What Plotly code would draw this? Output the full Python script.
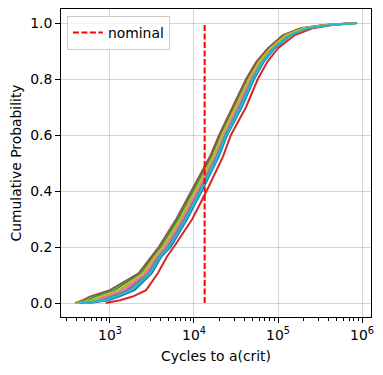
import plotly.graph_objects as go

# Cumulative probability levels at which each curve was read
prob = [0.0, 0.01, 0.023, 0.046, 0.106, 0.166, 0.2, 0.3, 0.4, 0.523,
        0.6, 0.7, 0.8, 0.86, 0.91, 0.957, 0.981, 0.993, 1.0]

# Cycles to a(crit) for each simulated curve at the probability levels above
cyc_blue   = [562, 953, 1279, 1959, 3133, 4093, 5284, 8299, 12360, 19720,
              24830, 37070, 51880, 67300, 91620, 142900, 231700, 415000, 855000]
cyc_orange = [479, 649, 818, 1346, 2564, 3499, 4395, 7031, 10570, 17260,
              21980, 32210, 45920, 60120, 82410, 126500, 205100, 380200, 880000]
cyc_green  = [417, 541, 662, 1127, 2333, 3251, 4027, 6501, 9817, 16180,
              20750, 30130, 43350, 57020, 78340, 119400, 193600, 364800, 870000]
cyc_red    = [890, 1318, 1862, 2692, 3715, 4780, 5750, 9550, 14130, 22130,
              27540, 41690, 57540, 74130, 100000, 158500, 257000, 446700, 870000]
cyc_purple = [457, 755, 977, 1563, 2780, 3724, 4732, 7516, 11250, 18200,
              23070, 34040, 48190, 62950, 85900, 132700, 215300, 393600, 860000]
cyc_brown  = [385, 479, 575, 1000, 2188, 3090, 3802, 6166, 9333, 15490,
              19950, 28840, 41690, 54950, 75860, 114800, 186200, 354800, 851000]
cyc_pink   = [501, 703, 899, 1455, 2673, 3614, 4571, 7278, 10920, 17740,
              22540, 33190, 47100, 61520, 84330, 129700, 210400, 387300, 845000]
cyc_gray   = [525, 811, 1059, 1675, 2884, 3837, 4887, 7745, 11590, 18660,
              23600, 34910, 49320, 64270, 87500, 135800, 220300, 399900, 875000]
cyc_olive  = [398, 611, 762, 1268, 2483, 3412, 4266, 6855, 10300, 16870,
              21580, 31480, 45080, 59020, 81100, 124200, 201400, 375000, 830000]
cyc_cyan   = [427, 879, 1164, 1811, 3006, 3963, 5082, 8017, 11970, 19190,
              24210, 35980, 50580, 65770, 89540, 139300, 225900, 407400, 865000]

series = [
    (cyc_blue, "#1f77b4"), (cyc_orange, "#ff7f0e"), (cyc_green, "#2ca02c"),
    (cyc_red, "#d62728"), (cyc_purple, "#9467bd"), (cyc_brown, "#8c564b"),
    (cyc_pink, "#e377c2"), (cyc_gray, "#7f7f7f"), (cyc_olive, "#bcbd22"),
    (cyc_cyan, "#17becf"),
]

nominal_x = [13400, 13400]
nominal_y = [0.0, 1.0]

x_tick_vals = [1e3, 1e4, 1e5, 1e6]
x_tick_text = ["10<sup>3</sup>", "10<sup>4</sup>", "10<sup>5</sup>", "10<sup>6</sup>"]
x_minor_vals = [m * 10 ** e for e in (2, 3, 4, 5, 6) for m in range(2, 10)]
y_tick_vals = [0.0, 0.2, 0.4, 0.6, 0.8, 1.0]

FONT = "DejaVu Sans"
FS = 13.9
fig = go.Figure()
for xs, col in series:
    fig.add_trace(go.Scatter(x=xs, y=prob, mode="lines",
                             line=dict(color=col, width=2),
                             showlegend=False, hoverinfo="skip"))

fig.add_trace(go.Scatter(x=nominal_x, y=nominal_y, mode="lines", name="nominal",
                         line=dict(color="#ff0000", width=2, dash="6px,2.5px")))

grid = "rgba(176,176,176,0.55)"
fig.update_layout(
    width=383, height=375,
    margin=dict(l=53, r=20, t=1, b=66),
    paper_bgcolor="white", plot_bgcolor="white",
    font=dict(family=FONT, size=FS, color="black"),
    showlegend=True,
    legend=dict(x=0.019, y=0.977, xanchor="left", yanchor="top",
                bgcolor="rgba(255,255,255,0.8)", bordercolor="#cccccc",
                borderwidth=1, font=dict(family=FONT, size=FS)),
    xaxis=dict(type="log", range=[2.417, 6.107], automargin=False,
               tickvals=x_tick_vals, ticktext=x_tick_text,
               tickfont=dict(family=FONT, size=FS),
               ticks="outside", ticklen=5, tickwidth=1, tickcolor="black",
               showline=True, linecolor="black", linewidth=1, mirror=True,
               showgrid=True, gridcolor=grid, gridwidth=1, zeroline=False,
               minor=dict(tickvals=x_minor_vals, ticks="outside", ticklen=3,
                          tickcolor="black", tickwidth=0.8, showgrid=False),
               title=dict(text="Cycles to a(crit)", standoff=9,
                          font=dict(family=FONT, size=FS))),
    yaxis=dict(range=[-0.05, 1.05], tickvals=y_tick_vals, tickformat=".1f",
               automargin=False, tickfont=dict(family=FONT, size=FS),
               ticks="outside", ticklen=5, tickwidth=1, tickcolor="black",
               showline=True, linecolor="black", linewidth=1, mirror=True,
               showgrid=True, gridcolor=grid, gridwidth=1, zeroline=False,
               title=dict(text="Cumulative Probability", standoff=11,
                          font=dict(family=FONT, size=FS))),
)

fig.write_html("out.html")
